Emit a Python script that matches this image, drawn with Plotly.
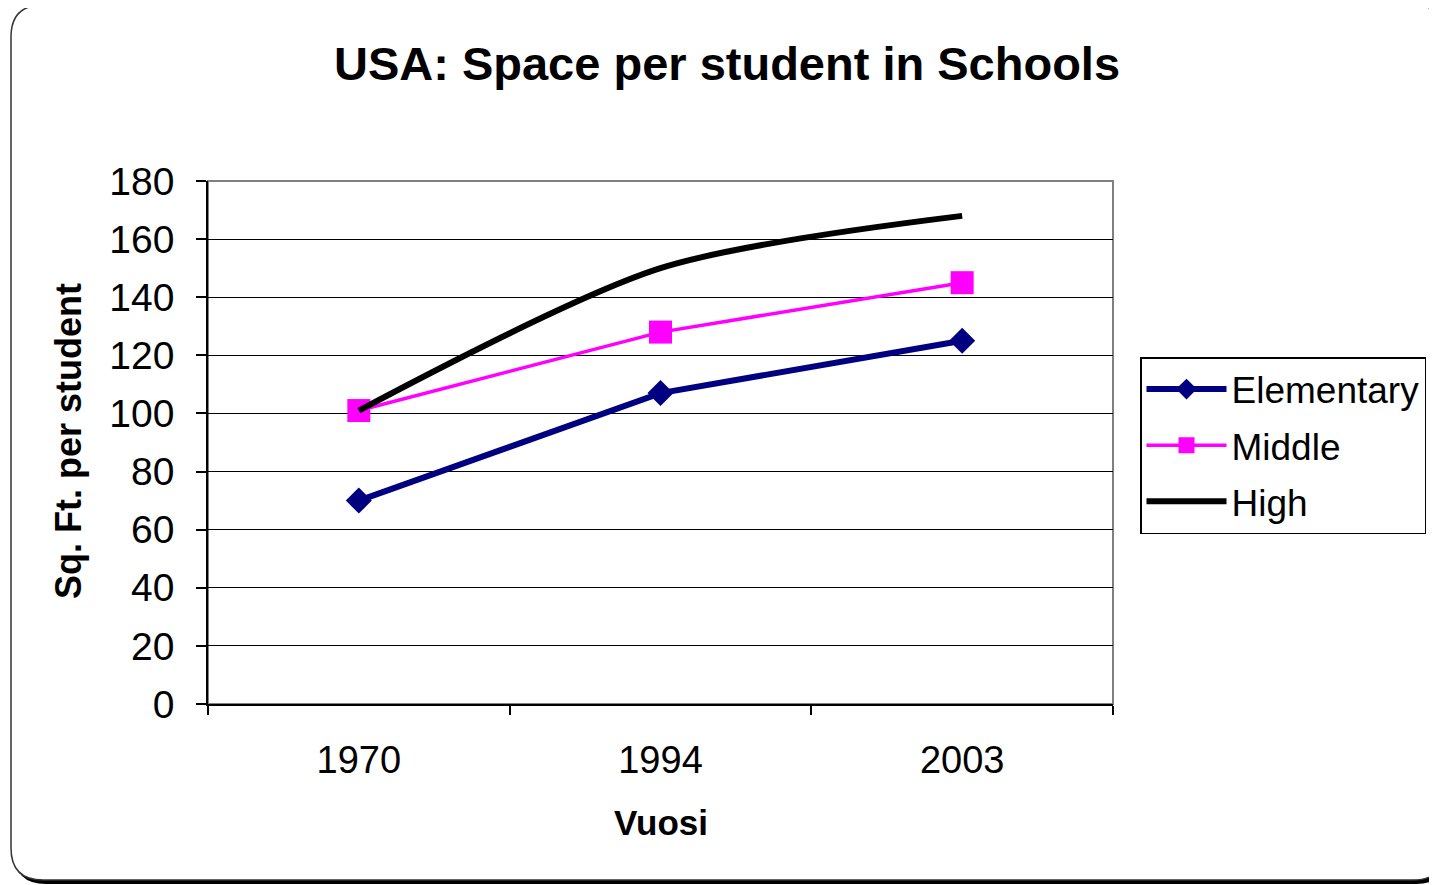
import plotly.graph_objects as go

W, H = 1437, 885
OFF = 8  # page body margin

years = ["1970", "1994", "2003"]
elementary = [70, 107, 125]
middle = [101, 128, 145]
high = [101, 150, 168]
y_ticks = [0, 20, 40, 60, 80, 100, 120, 140, 160, 180]

FONT = "Liberation Sans, Arial, sans-serif"

fig = go.Figure()
fig.add_trace(go.Scatter(x=years, y=elementary, name="Elementary", mode="lines+markers",
                         legendgroup="a",
                         line=dict(color="#000080", width=6),
                         marker=dict(symbol="diamond", size=20, color="#000080")))
fig.add_trace(go.Scatter(x=years, y=middle, name="Middle", mode="lines+markers",
                         legendgroup="b",
                         line=dict(color="#FF00FF", width=3.5),
                         marker=dict(symbol="square", size=23, color="#FF00FF")))
fig.add_trace(go.Scatter(x=years, y=high, name="High", mode="lines",
                         legendgroup="c",
                         line=dict(color="#000000", width=6, shape="spline", smoothing=0.8)))


def px(x):
    return (x - OFF) / W


def py(y):
    return 1 - (y - OFF) / H


def rrect(x0, y0, x1, y1, r):
    return (f"M {px(x0 + r)},{py(y0)} L {px(x1 - r)},{py(y0)} "
            f"Q {px(x1)},{py(y0)} {px(x1)},{py(y0 + r)} "
            f"L {px(x1)},{py(y1 - r)} Q {px(x1)},{py(y1)} {px(x1 - r)},{py(y1)} "
            f"L {px(x0 + r)},{py(y1)} Q {px(x0)},{py(y1)} {px(x0)},{py(y1 - r)} "
            f"L {px(x0)},{py(y0 + r)} Q {px(x0)},{py(y0)} {px(x0 + r)},{py(y0)} Z")


shapes = [
    dict(type="path", path=rrect(14, 8, 1448, 884, 32), xref="paper", yref="paper",
         fillcolor="#000000", line=dict(width=0), layer="below"),
    dict(type="path", path=rrect(11, 5, 1445, 880, 32), xref="paper", yref="paper",
         fillcolor="#FFFFFF", line=dict(color="#333333", width=1.5), layer="below"),
]

annotations = [
    dict(text="<b>Sq. Ft. per student</b>", x=px(68), y=py(441), xref="paper", yref="paper",
         textangle=-90, showarrow=False, xanchor="center", yanchor="middle",
         font=dict(size=36, family=FONT, color="#000000")),
    dict(text="<b>Vuosi</b>", x=px(661), y=py(822), xref="paper", yref="paper",
         showarrow=False, xanchor="center", yanchor="middle",
         font=dict(size=35, family=FONT, color="#000000")),
]

fig.update_layout(
    width=W, height=H,
    margin=dict(l=0, r=0, t=0, b=0, autoexpand=False),
    paper_bgcolor="#FFFFFF",
    plot_bgcolor="#C0C0C0",
    font=dict(family=FONT, color="#000000", size=32),
    shapes=shapes,
    annotations=annotations,
    title=dict(text="<b>USA: Space per student in Schools</b>", x=px(727), xanchor="center",
               xref="paper", yref="paper",
               y=py(64), yanchor="middle", font=dict(size=47, family=FONT), automargin=False),
    xaxis=dict(domain=[px(208), px(1113)], type="category", range=[-0.5, 2.5], automargin=False,
               tickson="boundaries", ticks="outside", ticklen=9, tickwidth=1.5, tickcolor="#000000",
               showline=True, linecolor="#000000", linewidth=1.5, mirror=False,
               showgrid=False, tickfont=dict(size=38), ticklabelstandoff=22),
    yaxis=dict(domain=[py(704), py(181)], range=[0, 180], tickvals=y_ticks, automargin=False,
               ticks="outside", ticklen=10, tickwidth=1.5, tickcolor="#000000",
               showline=True, linecolor="#000000", linewidth=1.5,
               showgrid=True, gridcolor="#000000", gridwidth=1, zeroline=False,
               tickfont=dict(size=39), ticklabelstandoff=14),
    legend=dict(x=px(1140), y=py(357), xanchor="left", yanchor="top",
                bordercolor="#000000", borderwidth=1.5, bgcolor="#FFFFFF",
                font=dict(size=37), tracegroupgap=5, itemwidth=80),
    showlegend=True,
)

# plot area border
fig.add_shape(type="rect", xref="x domain", yref="y domain", x0=0, x1=1, y0=0, y1=1,
              line=dict(color="#808080", width=2), fillcolor="rgba(0,0,0,0)", layer="below")

fig.write_html("out.html")
